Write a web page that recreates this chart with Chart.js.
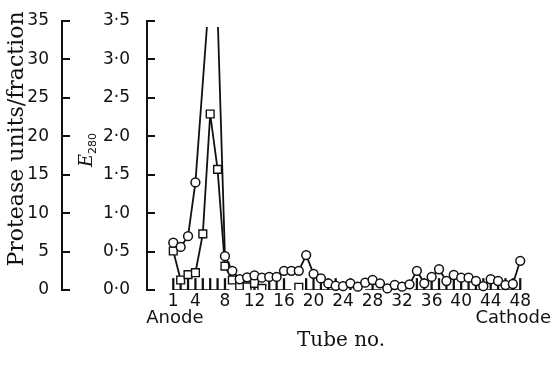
<!DOCTYPE html>
<html>
<head>
<meta charset="utf-8">
<script src="https://cdn.jsdelivr.net/npm/chart.js@4.4.1/dist/chart.umd.min.js"></script>
<style>
html,body{margin:0;padding:0;background:#fff;}
#wrap{position:relative;width:553px;height:365px;}
</style>
</head>
<body>
<div id="wrap"><canvas id="c"></canvas></div>
<script>
// ---- data ----
const tubes = Array.from({length: 48}, (_, i) => i + 1);
// circles series, on the protease-units scale (0-35)
const circleValues = [6.15, 5.6, 7.0, 14.0, null, 40, 36, 4.4, 2.5, 1.4,
  1.65, 1.9, 1.6, 1.7, 1.7, 2.5, 2.5, 2.5, 4.55, 2.1,
  1.5, 0.85, 0.55, 0.5, 0.87, 0.43, 0.95, 1.3, 0.87, 0.2,
  0.65, 0.43, 0.74, 2.5, 0.87, 1.7, 2.7, 1.17, 1.95, 1.6,
  1.6, 1.17, 0.5, 1.4, 1.17, 0.65, 0.78, 3.8];
// squares series
const squareValues = [5.07, 1.3, 2.0, 2.25, 7.3, 22.9, 15.7, 3.1, 1.3, 0.5,
  0.4, 0.87, 0.2, null, null, null, null, 0.35, null, null,
  null, null, null, null, null, null, null, null, null, null,
  null, null, null, null, null, null, null, null, null, null,
  null, null, null, null, null, null, null, null];
// fraction marks along the base
const combTubes = [1, 2, 3, 4, 5, 6, 7, 8, 12, 14, 15, 16, 19, 20, 21, 22, 23, 25, 28,
  34, 35, 36, 37, 38, 39, 40, 41, 42, 43, 44, 45, 46, 47, 48];
const combHeight = 1.5;
const baseSegments = [[1, 8.6], [13.8, 17], [18.8, 23.2], [27, 29.2], [33.6, 48]];
const xTickLabels = [1, 4, 8, 12, 16, 20, 24, 28, 32, 36, 40, 44, 48];
const proteaseTicks = [0, 5, 10, 15, 20, 25, 30, 35];
const e280Ticks = [0, 0.5, 1.0, 1.5, 2.0, 2.5, 3.0, 3.5];

const INK = '#111';
const sans = 'DejaVu Sans';
const serif = 'DejaVu Serif';

const baseData = [];
baseSegments.forEach((s, i) => {
  baseData.push({x: s[0], y: 0}, {x: s[1], y: 0});
  if (i < baseSegments.length - 1) baseData.push({x: (s[1] + baseSegments[i + 1][0]) / 2, y: null});
});

const annot = {
  id: 'annot',
  afterDraw(chart) {
    const ctx = chart.ctx;
    const yP = chart.scales.yP, yE = chart.scales.yE, x = chart.scales.x;
    ctx.save();
    ctx.strokeStyle = INK;
    ctx.lineWidth = 2;
    [yP, yE].forEach(s => {
      const bx = s.right;
      ctx.beginPath();
      s.ticks.forEach((t, i) => {
        const py = Math.round(s.getPixelForTick(i));
        ctx.moveTo(bx - 1, py);
        ctx.lineTo(bx + 8, py);
      });
      ctx.stroke();
    });
    ctx.fillStyle = INK;
    // y titles
    ctx.save();
    ctx.translate(17, 139);
    ctx.rotate(-Math.PI / 2);
    ctx.font = '22px "' + serif + '"';
    ctx.textAlign = 'center';
    ctx.textBaseline = 'middle';
    ctx.fillText('Protease units/fraction', 0, 0);
    ctx.restore();

    ctx.save();
    ctx.translate(86, 150);
    ctx.rotate(-Math.PI / 2);
    ctx.textBaseline = 'alphabetic';
    ctx.font = 'italic 18px "' + serif + '"';
    const wE = ctx.measureText('E').width;
    ctx.font = '11px "' + sans + '"';
    const wS = ctx.measureText('280').width;
    const start = -(wE + wS) / 2;
    ctx.font = 'italic 18px "' + serif + '"';
    ctx.textAlign = 'left';
    ctx.fillText('E', start, 6);
    ctx.font = '11px "' + sans + '"';
    ctx.fillText('280', start + wE, 10);
    ctx.restore();

    // Anode / Cathode
    ctx.font = '18px "' + sans + '"';
    ctx.textBaseline = 'middle';
    ctx.textAlign = 'left';
    ctx.fillText('Anode', x.getPixelForValue(1) - 27, 318);
    ctx.textAlign = 'right';
    ctx.fillText('Cathode', 551, 318);
    ctx.restore();
  }
};

new Chart(document.getElementById('c'), {
  data: {
    datasets: [
      {
        type: 'bar', label: 'fractions', yAxisID: 'yP',
        data: combTubes.map(t => ({x: t, y: combHeight})),
        backgroundColor: INK, barThickness: 1.6, borderWidth: 0, order: 5
      },
      {
        type: 'line', label: 'base', yAxisID: 'yP',
        data: baseData, borderColor: INK, borderWidth: 1.6, pointRadius: 0,
        spanGaps: false, order: 4
      },
      {
        type: 'line', label: 'squares', yAxisID: 'yP',
        data: tubes.map((t, i) => ({x: t, y: squareValues[i]})),
        borderColor: INK, borderWidth: 1.8, backgroundColor: '#fff',
        pointStyle: 'rect', pointRadius: 5.5, pointBorderWidth: 1.4,
        pointBackgroundColor: '#fff', pointBorderColor: INK,
        spanGaps: false, tension: 0, order: 2
      },
      {
        type: 'line', label: 'circles', yAxisID: 'yP',
        data: tubes.map((t, i) => ({x: t, y: circleValues[i]})),
        borderColor: INK, borderWidth: 1.8, backgroundColor: '#fff',
        pointStyle: 'circle', pointRadius: 4.4, pointBorderWidth: 1.5,
        pointBackgroundColor: '#fff', pointBorderColor: INK,
        spanGaps: true, tension: 0, order: 1,
        clip: {left: false, right: false, top: -6, bottom: false}
      }
    ]
  },
  options: {
    responsive: true,
    maintainAspectRatio: false,
    animation: false,
    events: [],
    layout: {padding: {top: 21, right: 18, bottom: 0, left: 0}},
    plugins: {legend: {display: false}, tooltip: {enabled: false}},
    scales: {
      x: {
        type: 'linear', min: -2.56, max: 50, offset: false,
        grid: {display: false}, border: {display: false},
        afterBuildTicks(s) { s.ticks = xTickLabels.map(v => ({value: v})); },
        afterFit(s) { s.height = 75; },
        ticks: {
          color: INK, padding: -7, maxRotation: 0, autoSkip: false,
          font: {family: sans, size: 17},
          callback: v => String(v)
        },
        title: {
          display: true, text: 'Tube no.', color: INK,
          font: {family: serif, size: 20}, padding: {top: 0, bottom: 12}
        }
      },
      yP: {
        type: 'linear', position: 'left', weight: 2, min: 0, max: 35,
        grid: {display: false},
        border: {display: true, color: INK, width: 2},
        afterBuildTicks(s) { s.ticks = proteaseTicks.map(v => ({value: v})); },
        afterFit(s) { s.width = 62; },
        ticks: {color: INK, padding: 5, font: {family: sans, size: 17}, callback: v => String(v)}
      },
      yE: {
        type: 'linear', position: 'left', weight: 1, min: 0, max: 3.5,
        grid: {display: false},
        border: {display: true, color: INK, width: 2},
        afterBuildTicks(s) { s.ticks = e280Ticks.map(v => ({value: v})); },
        afterFit(s) { s.width = 85; },
        ticks: {color: INK, padding: 9, font: {family: sans, size: 17},
          callback: v => Number(v).toFixed(1).replace('.', '\u00b7')}
      }
    }
  },
  plugins: [annot]
});
</script>
</body>
</html>
